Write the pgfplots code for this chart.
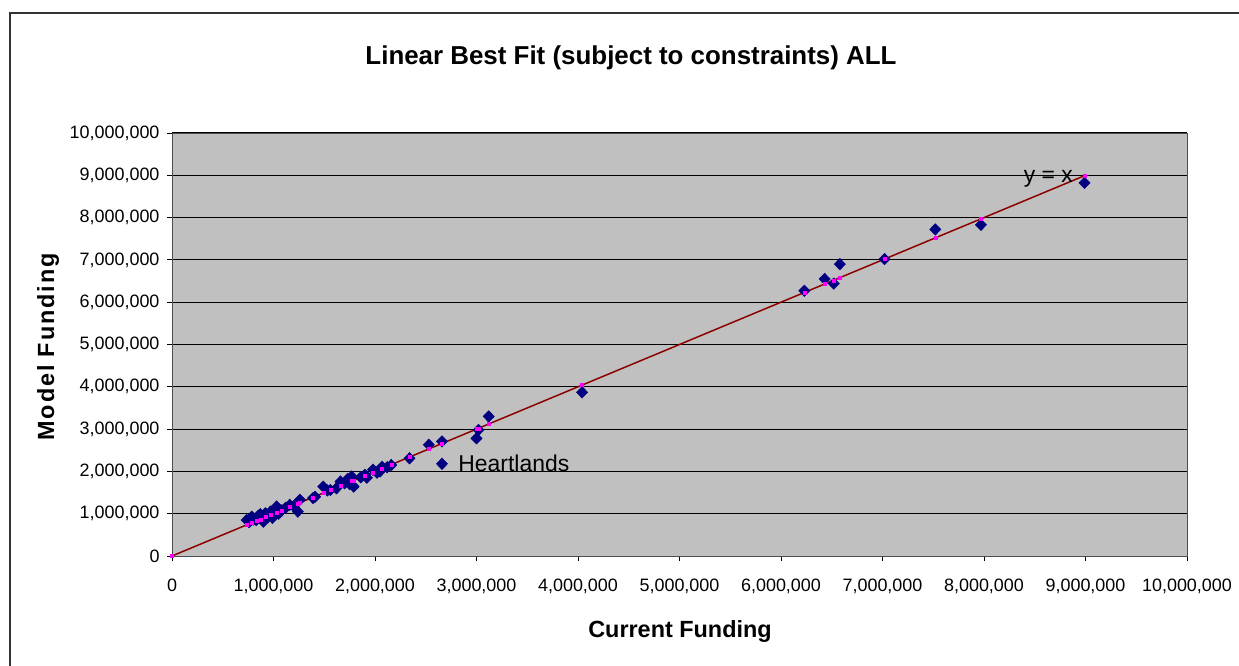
\documentclass[border=0pt]{standalone}
\usepackage{pgfplots}
\pgfplotsset{compat=1.18}
\usepackage{fontspec}
\setmainfont{Liberation Sans}
\definecolor{plotbg}{HTML}{C0C0C0}
\definecolor{navyd}{HTML}{000080}
\definecolor{linered}{HTML}{8B0000}
\definecolor{mag}{HTML}{FF00FF}
\begin{document}
\begin{tikzpicture}[x=1bp,y=1bp]
\useasboundingbox (-172bp,-110bp) rectangle (1067bp,556bp);
\draw[line width=1.5bp,black!80] (-162bp,-112bp) -- (-162bp,543bp) -- (1070bp,543bp);
\begin{axis}[
  at={(0bp,0bp)}, anchor=south west,
  scale only axis, width=1015bp, height=423bp,
  xmin=0, xmax=10, ymin=0, ymax=10,
  axis background/.style={fill=plotbg},
  axis line style={draw=black!70},
  xtick={0,1,...,10}, ytick={0,1,...,10},
  xticklabels={0,{1,000,000},{2,000,000},{3,000,000},{4,000,000},{5,000,000},{6,000,000},{7,000,000},{8,000,000},{9,000,000},{10,000,000}},
  yticklabels={0,{1,000,000},{2,000,000},{3,000,000},{4,000,000},{5,000,000},{6,000,000},{7,000,000},{8,000,000},{9,000,000},{10,000,000}},
  tick align=outside, major tick length=5bp,
  tick style={black, line width=0.8bp},
  xtick pos=bottom, ytick pos=left,
  ymajorgrids, grid style={black, line width=1bp},
  ticklabel style={font=\fontsize{18}{21}\selectfont},
  xticklabel style={yshift=-14bp},
  yticklabel style={xshift=-4bp},
  clip=false,
]
\addplot[linered, line width=1.5bp] coordinates {(0,0) (8.99,8.99)};
\addplot[only marks, mark=diamond*, mark size=5.8bp, mark options={fill=navyd, draw=navyd, xscale=1.3}] table {
x y
0.736 0.85
0.76 0.80
0.785 0.93
0.80 0.86
0.83 0.85
0.85 0.95
0.87 0.99
0.90 0.81
0.92 1.01
0.95 0.93
0.97 1.05
0.99 0.90
1.03 1.17
1.05 1.00
1.08 1.08
1.12 1.14
1.16 1.21
1.20 1.18
1.24 1.05
1.26 1.33
1.39 1.37
1.41 1.40
1.49 1.64
1.53 1.55
1.56 1.56
1.62 1.60
1.66 1.76
1.70 1.72
1.73 1.82
1.75 1.70
1.77 1.88
1.79 1.64
1.86 1.86
1.90 1.92
1.92 1.85
1.98 2.04
2.02 1.97
2.05 2.00
2.07 2.11
2.12 2.10
2.16 2.15
2.34 2.31
2.53 2.63
2.66 2.71
2.66 2.18
3.00 2.78
3.02 2.98
3.12 3.30
4.04 3.87
6.23 6.27
6.43 6.55
6.52 6.44
6.58 6.90
7.02 7.02
7.52 7.72
7.97 7.83
8.99 8.82
};
\addplot[only marks, mark=square*, mark size=1.5bp, mark options={fill=mag, draw=mag}] table {
x y
0 0
0.736 0.736
0.785 0.785
0.83 0.83
0.87 0.87
0.92 0.92
0.97 0.97
1.03 1.03
1.08 1.08
1.16 1.16
1.24 1.24
1.26 1.26
1.39 1.39
1.49 1.49
1.56 1.56
1.66 1.66
1.77 1.77
1.79 1.79
1.90 1.90
1.98 1.98
2.07 2.07
2.16 2.16
2.34 2.34
2.53 2.53
2.66 2.66
3.00 3.00
3.02 3.02
3.12 3.12
4.04 4.04
6.23 6.23
6.43 6.43
6.52 6.52
6.58 6.58
7.02 7.02
7.52 7.52
7.97 7.97
8.99 8.99
};
\node[anchor=west, font=\fontsize{23}{27}\selectfont, inner sep=0pt] at (axis cs:2.82,2.18) {Heartlands};
\node[anchor=west, font=\fontsize{23}{27}\selectfont, inner sep=0pt] at (axis cs:8.39,8.91) {y = x};
\end{axis}
\node[font=\bfseries\fontsize{26}{31}\selectfont] at (459bp,498bp) {Linear Best Fit (subject to constraints) ALL};
\node[font=\bfseries\fontsize{23.5}{28}\selectfont] at (508bp,-75bp) {Current Funding};
\node[rotate=90, font=\bfseries\fontsize{23.5}{28}\selectfont\addfontfeature{LetterSpace=8}] at (-124bp,209bp) {Model Funding};
\end{tikzpicture}
\end{document}
